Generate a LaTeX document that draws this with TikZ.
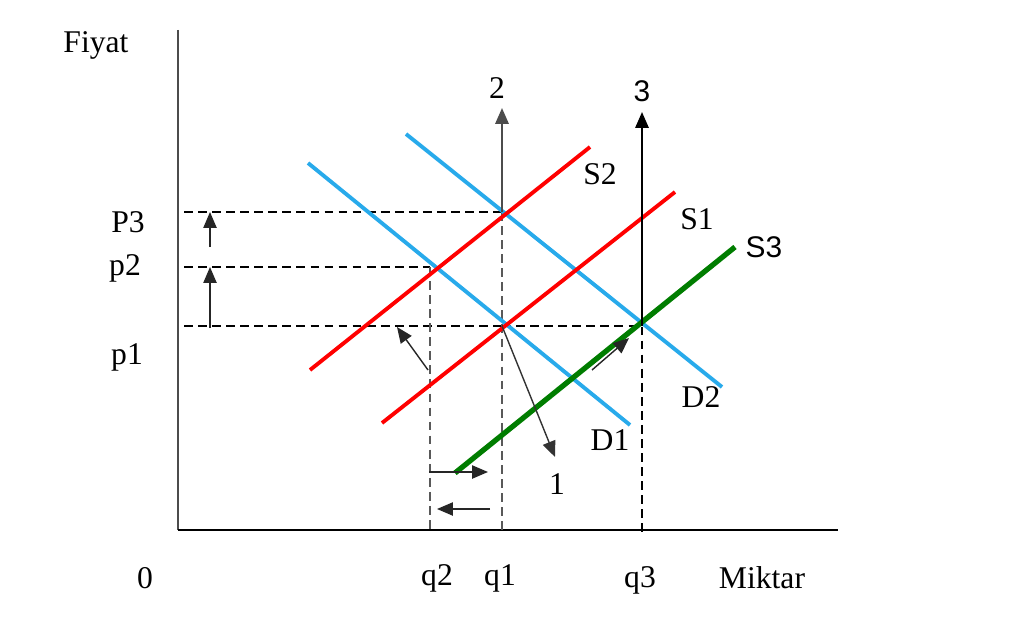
\documentclass[tikz,border=0pt]{standalone}
\usepackage{fontspec}
\setmainfont{Liberation Serif}
\setsansfont{Liberation Sans}
\usetikzlibrary{arrows.meta,calc}
\definecolor{demblue}{RGB}{40,170,235}
\definecolor{supgreen}{RGB}{0,125,0}
\begin{document}
\begin{tikzpicture}[x=0.02cm,y=-0.02cm,
lbl/.style={font=\fontsize{18}{20}\selectfont, inner sep=0pt},
slbl/.style={font=\sffamily\fontsize{17}{20}\selectfont, inner sep=0pt},
guide/.style={line width=0.8pt, dash pattern=on 5pt off 3pt},
shiftarr/.style={-{Triangle[length=9pt,width=7.5pt]}, line width=0.8pt}]
\tikzstyle{dem}=[line width=2.2pt, demblue]
\tikzstyle{sup}=[line width=2.2pt, red]
\useasboundingbox (0,0) rectangle (1024,635);
% axes
\coordinate (O) at (178,530);
\coordinate (ytop) at (178,30);
\coordinate (xend) at (838,530);
\draw[gray!60!black, line width=1.1pt] (ytop) -- (O);
\draw[line width=0.9pt] (O) -- (xend);
% equilibrium points and axis feet
\coordinate (e1) at (502,326);
\coordinate (e2) at (430,267);
\coordinate (e3) at (502,212);
\coordinate (e4) at (642,326);
\coordinate (p3) at (184,212);
\coordinate (p2) at (184,267);
\coordinate (p1) at (184,326);
\coordinate (q2) at (430,530);
\coordinate (q1) at (502,530);
\coordinate (q3) at (642,537);
% guide lines
\draw[guide] (p3) -- (e3);
\draw[guide] (p2) -- (e2);
\draw[guide] (p1) -- (e1);
\draw[guide, gray!70!black] (e3) -- (q1);
\draw[guide, gray!70!black] (e2) -- (q2);
\draw[guide, line width=1.3pt] (e1) -- (e4) -- (q3);
% demand and supply curves
\draw[dem] (308,163) -- (630,425);
\draw[dem] (406,134) -- (722,387);
\draw[sup] (310,370) -- (590,147);
\draw[sup] (382,423) -- (675,192);
\draw[line width=3pt, supgreen] (455,473) -- (735,247);
% shift arrows
\coordinate (a2) at (502,108);
\coordinate (a3) at (642,112);
\coordinate (a1) at (555,457);
\draw[shiftarr, gray!60!black, line width=1.3pt] (e3) -- (a2);
\draw[shiftarr, line width=1.2pt] (e4) -- (a3);
\draw[shiftarr, black!80] (e1) -- (a1);
\foreach \t/\h in {{210,247}/{210,212}, {210,328}/{210,267}, {428,370}/{397,327},
  {592,370}/{629,338}, {429,472}/{488,472}, {490,509}/{437,509}}{
\coordinate (t) at (\t); \coordinate (h) at (\h);
\draw[shiftarr, black!85] (t) -- (h);}
% labels
\node[lbl] (fiyat) at (96,45) {Fiyat};
\node[lbl] (miktar) at (762,578) {Miktar};
\node[lbl] (zero) at (145,578) {0};
\node[lbl] (lq2) at (437,578) {q2};
\node[lbl] (lq1) at (500,578) {q1};
\node[lbl] (lq3) at (640,580) {q3};
\node[lbl] (lp3) at (128,222) {P3};
\node[lbl] (lp2) at (125,268) {p2};
\node[lbl] (lp1) at (127,357) {p1};
\node[lbl] (l2) at (497,88) {2};
\node[slbl] (l3) at (642,91) {3};
\node[lbl] (l1) at (557,484) {1};
\node[lbl] (ls2) at (600,174) {S2};
\node[lbl] (ls1) at (697,219) {S1};
\node[slbl] (ls3) at (764,247) {S3};
\node[lbl] (ld1) at (610,440) {D1};
\node[lbl] (ld2) at (701,397) {D2};
\end{tikzpicture}
\end{document}
